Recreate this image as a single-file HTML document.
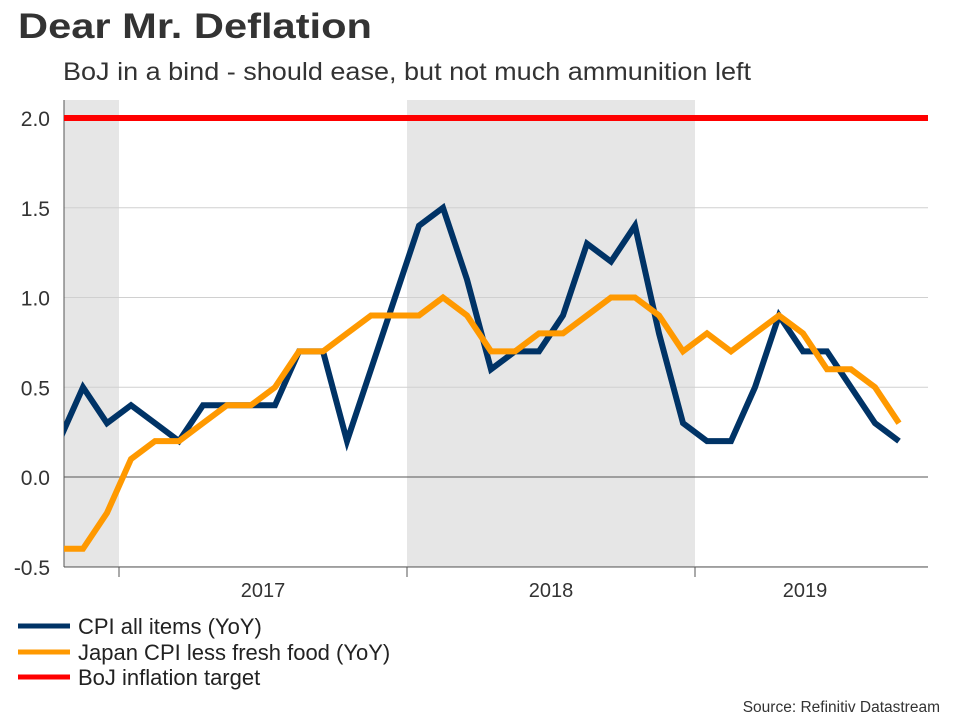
<!DOCTYPE html>
<html><head><meta charset="utf-8"><style>
body{margin:0;background:#fff;font-family:"Liberation Sans",Arial,sans-serif}
</style></head><body>
<svg width="960" height="720" viewBox="0 0 960 720" xmlns="http://www.w3.org/2000/svg" font-family="Liberation Sans, Arial, sans-serif">
<text x="18" y="38" font-size="35" font-weight="bold" fill="#333" textLength="354" lengthAdjust="spacingAndGlyphs">Dear Mr. Deflation</text>
<text x="63" y="80" font-size="25" fill="#333" textLength="688" lengthAdjust="spacingAndGlyphs">BoJ in a bind - should ease, but not much ammunition left</text>
<g id="plot"></g>
<g>
<line x1="18" y1="626" x2="70" y2="626" stroke="#003366" stroke-width="5"/>
<text x="78" y="634" font-size="22" fill="#222">CPI all items (YoY)</text>
<line x1="18" y1="652" x2="70" y2="652" stroke="#ff9900" stroke-width="5"/>
<text x="78" y="660" font-size="22" fill="#222">Japan CPI less fresh food (YoY)</text>
<line x1="18" y1="677" x2="70" y2="677" stroke="#ff0000" stroke-width="5"/>
<text x="78" y="685" font-size="22" fill="#222">BoJ inflation target</text>
</g>
<text x="940" y="712" font-size="15.5" fill="#333" text-anchor="end">Source: Refinitiv Datastream</text>
</svg>
<script>
const cpi=[0.2,0.5,0.3,0.4,0.3,0.2,0.4,0.4,0.4,0.4,0.7,0.7,0.2,0.6,1.0,1.4,1.5,1.1,0.6,0.7,0.7,0.9,1.3,1.2,1.4,0.8,0.3,0.2,0.2,0.5,0.9,0.7,0.7,0.5,0.3,0.2];
const core=[-0.4,-0.4,-0.2,0.1,0.2,0.2,0.3,0.4,0.4,0.5,0.7,0.7,0.8,0.9,0.9,0.9,1.0,0.9,0.7,0.7,0.8,0.8,0.9,1.0,1.0,0.9,0.7,0.8,0.7,0.8,0.9,0.8,0.6,0.6,0.5,0.3];
const target=2.0;
const yTicks=[-0.5,0.0,0.5,1.0,1.5,2.0];
const years=["2017","2018","2019"];
const shaded=[[-0.5,2.5],[14.5,26.5]];
const NS="http://www.w3.org/2000/svg";
const L=64,R=928,T=100,B=567;
const x=i=>59+24*i;
const y=v=>477-179.5*v;
const g=document.getElementById('plot');
function mk(t,a){const e=document.createElementNS(NS,t);for(const k in a)e.setAttribute(k,a[k]);g.appendChild(e);return e;}
const defs=mk('defs',{});const cp=document.createElementNS(NS,'clipPath');cp.setAttribute('id','c');
const cr=document.createElementNS(NS,'rect');cr.setAttribute('x',L);cr.setAttribute('y',T);cr.setAttribute('width',R-L);cr.setAttribute('height',B-T);cp.appendChild(cr);defs.appendChild(cp);
shaded.forEach(s=>{const a=Math.max(L,x(s[0])),b=Math.min(R,x(s[1]));const r=mk('rect',{x:a,y:T,width:b-a,height:B-T,fill:'#e6e6e6'});

});
yTicks.forEach(v=>{const l=mk('line',{x1:L,x2:R,y1:y(v),y2:y(v),stroke:v===0?'#555':'#d0d0d0','stroke-width':1});


const t=mk('text',{x:50,y:y(v)+8,'font-size':21,fill:'#333','text-anchor':'end'});t.textContent=v.toFixed(1);

});
const ax=mk('line',{x1:L,x2:L,y1:T,y2:B,stroke:'#555'});


const bx=mk('line',{x1:L,x2:R,y1:B,y2:B,stroke:'#555'});


years.forEach((yr,k)=>{const b=x(2.5+12*k);const tk=mk('line',{x1:b,x2:b,y1:B,y2:B+10,stroke:'#555'});


const t=mk('text',{x:k===2?805:x(8.5+12*k),y:B+30,'font-size':20,fill:'#333','text-anchor':'middle'});t.textContent=yr;

});
const tl=mk('line',{x1:L,x2:R,y1:y(target),y2:y(target),stroke:'#ff0000','stroke-width':6});


function line(d,c,n){const p=mk('polyline',{points:d.map((v,i)=>x(i)+','+y(v)).join(' '),fill:'none',stroke:c,'stroke-width':6,'stroke-linejoin':'miter','clip-path':'url(#c)'});

}
line(cpi,'#003366','cpi-line');
line(core,'#ff9900','core-cpi-line');
</script>
</body></html>
